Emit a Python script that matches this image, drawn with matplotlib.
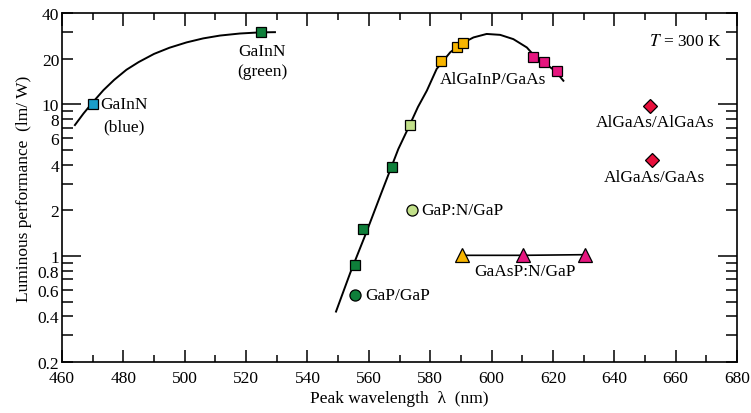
import matplotlib
matplotlib.use("Agg")
import matplotlib.pyplot as plt
from matplotlib.ticker import FixedLocator, FuncFormatter

plt.rcParams['font.family'] = ['Liberation Serif', 'DejaVu Serif']
plt.rcParams['mathtext.fontset'] = 'stix'

# curves
nitride_x = [464.2, 467.0, 470.0, 473.5, 477.0, 481.0, 485.0, 490.0, 495.0,
             500.6, 506.0, 511.5, 518.0, 524.5, 529.4]
nitride_y = [7.3, 8.7, 10.3, 12.4, 14.5, 16.9, 19.0, 21.5, 23.6,
             25.6, 27.2, 28.4, 29.3, 29.8, 29.9]
main_x = [549.3, 554.0, 559.0, 564.0, 569.6, 573.2, 576.0, 578.9, 582.1, 586.5,
          590.0, 594.1, 598.4, 602.8, 607.1, 611.5, 614.0, 617.5, 621.0, 623.4]
main_y = [0.43, 0.78, 1.40, 2.58, 5.07, 7.22, 9.6, 12.3, 17.1, 22.0,
          25.0, 27.6, 29.1, 28.7, 26.9, 23.7, 20.8, 18.6, 16.4, 14.3]

# data points
blue_sq = ([470], [10.0])
green_sq = ([525, 555.5, 558.2, 567.6], [30.0, 0.87, 1.51, 3.84])
lgreen_sq = ([573.4], [7.3])
yellow_sq = ([583.6, 588.6, 590.8], [19.2, 23.9, 25.2])
pink_sq = ([613.6, 617.1, 621.4], [20.4, 18.9, 16.5])
diamonds = ([651.7, 652.3], [9.8, 4.3])
gapn = ([574.1], [2.0])
gap = ([555.6], [0.55])
tri_x = [590.4, 610.3, 630.5]
tri_y = [1.01, 1.01, 1.02]
tri_colors = ['#f7b500', '#e6167f', '#e6167f']

c_blue = '#1b9ec9'
c_green = '#0e7f3a'
c_lgreen = '#c2e08a'
c_yellow = '#f7b500'
c_pink = '#e6167f'
c_red = '#e8103c'

fig = plt.figure(figsize=(7.51, 4.14), dpi=100)
ax = fig.add_axes([0.0826, 0.1232, 0.8988, 0.843])

ax.plot(nitride_x, nitride_y, color='black', lw=1.4, zorder=2)
ax.plot(main_x, main_y, color='black', lw=1.4, zorder=2)
ax.plot(tri_x, tri_y, color='black', lw=1.2, zorder=2)

sq = dict(marker='s', ls='none', ms=7.5, mec='black', mew=0.9, zorder=3)
ax.plot(*blue_sq, mfc=c_blue, **sq)
ax.plot(*green_sq, mfc=c_green, **sq)
ax.plot(*lgreen_sq, mfc=c_lgreen, **sq)
ax.plot(*yellow_sq, mfc=c_yellow, **sq)
ax.plot(*pink_sq, mfc=c_pink, **sq)
ax.plot(*diamonds, marker='D', ls='none', ms=7.5, mfc=c_red, mec='black', mew=0.9, zorder=3)
ax.plot(*gapn, marker='o', ls='none', ms=8, mfc=c_lgreen, mec='black', mew=0.9, zorder=3)
ax.plot(*gap, marker='o', ls='none', ms=8, mfc=c_green, mec='black', mew=0.9, zorder=3)
for x, y, c in zip(tri_x, tri_y, tri_colors):
    ax.plot(x, y, marker='^', ls='none', ms=9.5, mfc=c, mec='black', mew=0.9, zorder=3)

fs = 12.5
ax.text(472.5, 10.0, 'GaInN', fontsize=fs, ha='left', va='center')
ax.text(480.2, 7.2, '(blue)', fontsize=fs, ha='center', va='center')
ax.text(525.2, 22.4, 'GaInN', fontsize=fs, ha='center', va='center')
ax.text(525.2, 16.6, '(green)', fontsize=fs, ha='center', va='center')
ax.text(600.5, 14.7, 'AlGaInP/GaAs', fontsize=fs, ha='center', va='center')
ax.text(653.3, 7.6, 'AlGaAs/AlGaAs', fontsize=fs, ha='center', va='center')
ax.text(653.0, 3.3, 'AlGaAs/GaAs', fontsize=fs, ha='center', va='center')
ax.text(577.2, 2.02, 'GaP:N/GaP', fontsize=fs, ha='left', va='center')
ax.text(610.9, 0.80, 'GaAsP:N/GaP', fontsize=fs, ha='center', va='center')
ax.text(558.8, 0.553, 'GaP/GaP', fontsize=fs, ha='left', va='center')
ax.text(675.1, 26.2, '$T$ = 300 K', fontsize=fs, ha='right', va='center')

ax.set_xlim(460, 680)
ax.set_yscale('log')
ax.set_ylim(0.2, 40)

ax.set_xticks(range(460, 681, 20))
ax.set_xticks(range(470, 680, 20), minor=True)

ylabels = [0.2, 0.4, 0.6, 0.8, 2, 4, 6, 8, 20, 40]
ax.yaxis.set_major_locator(FixedLocator([1, 10]))
ax.yaxis.set_major_formatter(FuncFormatter(lambda v, p: '%g' % v))
ax.yaxis.set_minor_locator(FixedLocator([0.2, 0.3, 0.4, 0.5, 0.6, 0.7, 0.8, 0.9,
                                         2, 3, 4, 5, 6, 7, 8, 9, 20, 30, 40]))
ax.yaxis.set_minor_formatter(FuncFormatter(
    lambda v, p: ('%g' % v) if any(abs(v - l) < 1e-6 for l in ylabels) else ''))

ax.tick_params(axis='both', which='both', direction='in', top=True, right=True,
               labelsize=12.5, width=1.1)
ax.tick_params(axis='x', which='major', length=9, pad=6)
ax.tick_params(axis='x', which='minor', length=5, pad=6)
ax.tick_params(axis='y', which='major', length=14, pad=2)
ax.tick_params(axis='y', which='minor', length=8, pad=2)
for s in ax.spines.values():
    s.set_linewidth(1.2)

ax.set_xlabel('Peak wavelength  λ  (nm)', fontsize=12.5, labelpad=3)
ax.set_ylabel('Luminous performance  (lm/ W)', fontsize=12.5, labelpad=4)

fig.savefig('out.png', dpi=100)
